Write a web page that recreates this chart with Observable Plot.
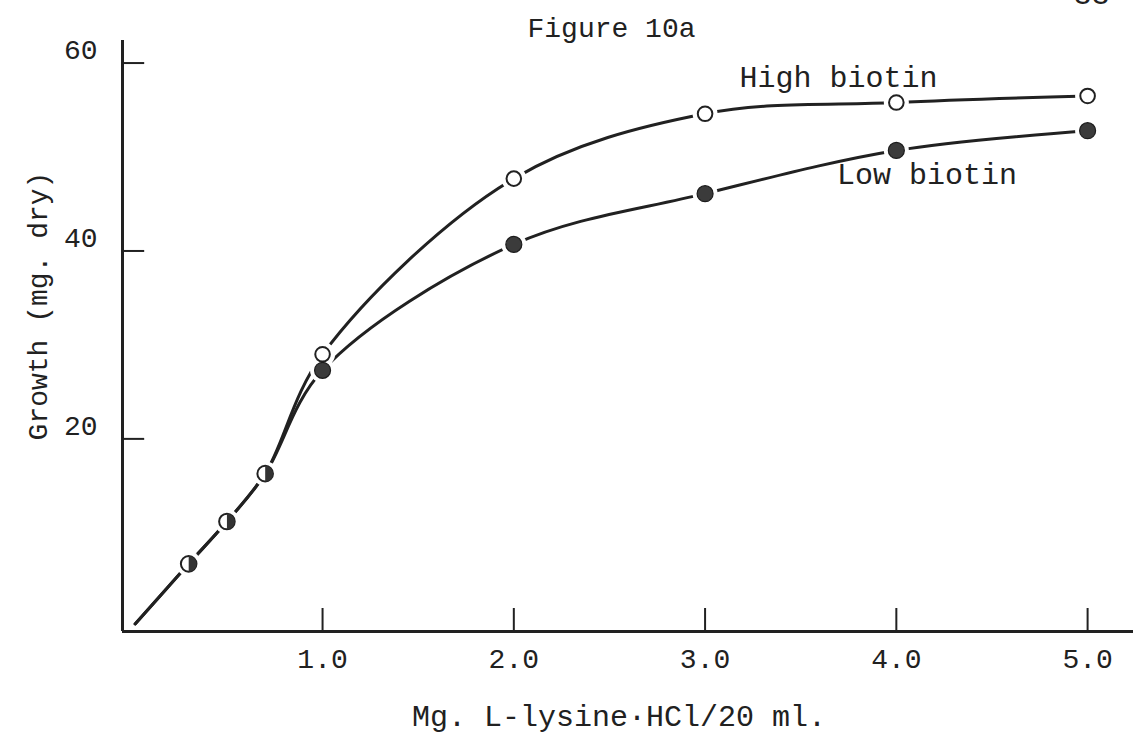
<!DOCTYPE html>
<html>
<head>
<meta charset="utf-8">
<script src="https://cdn.jsdelivr.net/npm/d3@7"></script>
<script src="https://cdn.jsdelivr.net/npm/@observablehq/plot@0.6"></script>
<style>
  html, body { margin: 0; padding: 0; background: #fff; }
</style>
</head>
<body>
<div id="chart"></div>
<script>
// Growth of the culture against L-lysine·HCl supplied, at two biotin levels
const lysine = [0.3, 0.5, 0.7, 1.0, 2.0, 3.0, 4.0, 5.0];          // mg / 20 ml
const highBiotin = [6.7, 11.2, 16.3, 29.0, 47.7, 54.6, 55.8, 56.5]; // mg dry
const lowBiotin = [6.7, 11.2, 16.3, 27.3, 40.7, 46.1, 50.7, 52.8];  // mg dry
const sharedCount = 3; // the lowest three levels gave the same growth for both
const curveStart = {x: 0.02, y: 0.3};

const xTicks = [1, 2, 3, 4, 5];
const yTicks = [20, 40, 60];

const seriesLabels = [
  {text: "High biotin", x: 3.18, y: 57.4},
  {text: "Low biotin", x: 3.69, y: 47.1}
];

const ink = "#212121";
const font = "Liberation Mono";

const high = lysine.map((x, i) => ({x, y: highBiotin[i]}));
const low = lysine.map((x, i) => ({x, y: lowBiotin[i]}));
const shared = high.slice(0, sharedCount);
const highOnly = high.slice(sharedCount);
const lowOnly = low.slice(sharedCount);

// right half of a disc, for points common to both series
const rightHalf = {
  draw(ctx, size) {
    const r = Math.sqrt(size / Math.PI);
    ctx.moveTo(0, -r);
    ctx.arc(0, 0, r, -Math.PI / 2, Math.PI / 2);
    ctx.closePath();
  }
};

const xMin = -0.046, yMin = -0.5;

const chart = Plot.plot({
  width: 1133,
  height: 740,
  marginTop: 40,
  marginRight: 0,
  marginBottom: 109,
  marginLeft: 122,
  x: {domain: [xMin, 5.24], axis: null},
  y: {domain: [yMin, 62.4], axis: null},
  style: {fontFamily: font, background: "#fff", color: ink},
  marks: [
    // axes
    Plot.ruleX([xMin], {stroke: ink, strokeWidth: 3}),
    Plot.ruleY([yMin], {stroke: ink, strokeWidth: 3}),
    Plot.ruleX(xTicks, {y1: yMin, y2: 1.95, stroke: ink, strokeWidth: 2}),
    Plot.ruleY(yTicks, {x1: xMin, x2: 0.07, stroke: ink, strokeWidth: 2}),

    // curves
    Plot.line([curveStart, ...high], {x: "x", y: "y", curve: "catmull-rom", stroke: ink, strokeWidth: 3}),
    Plot.line([curveStart, ...low], {x: "x", y: "y", curve: "catmull-rom", stroke: ink, strokeWidth: 3}),

    // gaps in the curves around each point
    Plot.dot([...high, ...lowOnly], {x: "x", y: "y", r: 12.5, fill: "#fff"}),

    // points
    Plot.dot(highOnly, {x: "x", y: "y", r: 7.3, fill: "#fff", stroke: ink, strokeWidth: 2}),
    Plot.dot(lowOnly, {x: "x", y: "y", r: 8, fill: "#3b3b3b", stroke: "#1c1c1c", strokeWidth: 1.2}),
    Plot.dot(shared, {x: "x", y: "y", r: 7.8, fill: "#fff", stroke: ink, strokeWidth: 2}),
    Plot.dot(shared, {x: "x", y: "y", r: 7.8, symbol: rightHalf, fill: "#333"}),

    // series labels
    Plot.text(seriesLabels, {x: "x", y: "y", text: "text", textAnchor: "start", lineAnchor: "bottom",
      fontSize: 30, fill: ink}),

    // tick labels
    Plot.text(xTicks, {x: d => d, frameAnchor: "bottom", dy: 36, lineAnchor: "bottom",
      text: d3.format(".1f"), fontSize: 28, fill: ink}),
    Plot.text(yTicks, {y: d => d, frameAnchor: "left", dx: -25, dy: -4, textAnchor: "end", lineAnchor: "bottom",
      text: d => String(d), fontSize: 28, fill: ink}),

    // axis titles
    Plot.text(["Mg. L-lysine\u00b7HCl/20 ml."], {frameAnchor: "bottom", dx: -9, dy: 94, textAnchor: "middle",
      lineAnchor: "bottom", text: d => d, fontSize: 30, fill: ink}),
    Plot.text(["Growth (mg. dry)"], {frameAnchor: "left", dx: -84, dy: -30, rotate: -90, textAnchor: "middle",
      lineAnchor: "middle", text: d => d, fontSize: 28, fill: ink}),

    // figure title and page number
    Plot.text(["Figure 10a"], {frameAnchor: "top-left", dx: 405, dy: -4, textAnchor: "start", lineAnchor: "bottom",
      text: d => d, fontSize: 28, fill: ink}),
    Plot.text(["33"], {frameAnchor: "top-right", dx: -60, dy: -37, textAnchor: "start", lineAnchor: "bottom",
      text: d => d, fontSize: 30, fill: ink})
  ]
});

document.getElementById("chart").appendChild(chart);
</script>
</body>
</html>
